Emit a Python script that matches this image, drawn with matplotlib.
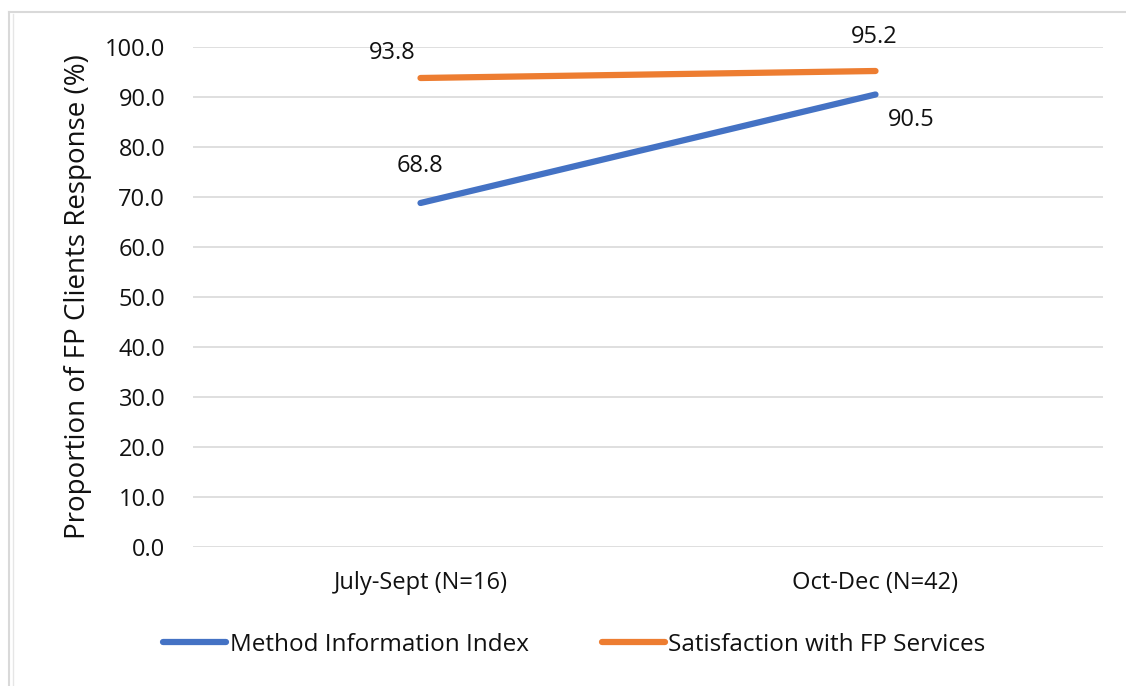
import matplotlib
matplotlib.use("Agg")
import matplotlib.pyplot as plt
from matplotlib.lines import Line2D

categories = ["July-Sept (N=16)", "Oct-Dec (N=42)"]
method_info = [68.8, 90.5]
satisfaction = [93.8, 95.2]
series_names = ["Method Information Index", "Satisfaction with FP Services"]
yticks = [0, 10, 20, 30, 40, 50, 60, 70, 80, 90, 100]

plt.rcParams['font.family'] = ['Open Sans', 'DejaVu Sans']

fig = plt.figure(figsize=(11.26, 6.86), dpi=100)
ax = fig.add_axes([193/1126, 1-547/686, 910/1126, 500/686])

blue = "#4472C4"
orange = "#ED7D31"
txt = "#111111"
fs = 17
x = list(range(len(categories)))
l1, = ax.plot(x, method_info, color=blue, lw=4.5, solid_capstyle='round', zorder=3)
l2, = ax.plot(x, satisfaction, color=orange, lw=4.5, solid_capstyle='round', zorder=3)

ax.set_xlim(-0.5, 1.5)
ax.set_ylim(0, 100)
ax.set_yticks(yticks)
ax.set_yticklabels([f"{v:.1f}" for v in yticks], fontsize=fs, color=txt)
ax.set_xticks(x)
ax.set_xticklabels(categories, fontsize=fs, color=txt)
ax.tick_params(axis='both', length=0)
ax.tick_params(axis='y', pad=20)
ax.tick_params(axis='x', pad=17)
ax.grid(axis='y', color="#D9D9D9", lw=1.2)
ax.set_axisbelow(True)
for s in ax.spines.values():
    s.set_visible(False)
ax.set_ylabel("Proportion of FP Clients Response (%)", fontsize=20, labelpad=9, color=txt)

# data labels
ax.annotate(f"{satisfaction[0]:.1f}", (x[0], satisfaction[0]), xytext=(-20, 18), textcoords='offset points', ha='center', va='center', fontsize=fs, color=txt)
ax.annotate(f"{satisfaction[1]:.1f}", (x[1], satisfaction[1]), xytext=(-0.7, 24.5), textcoords='offset points', ha='center', va='center', fontsize=fs, color=txt)
ax.annotate(f"{method_info[0]:.1f}", (x[0], method_info[0]), xytext=(0, 26.6), textcoords='offset points', ha='center', va='center', fontsize=fs, color=txt)
ax.annotate(f"{method_info[1]:.1f}", (x[1], method_info[1]), xytext=(26, -18), textcoords='offset points', ha='center', va='center', fontsize=fs, color=txt)

leg = fig.legend([l1, l2], series_names, loc='center', bbox_to_anchor=(0.51, 1-645/686),
                 ncol=2, frameon=False, fontsize=17.5, handlelength=2.6, handletextpad=0.15,
                 columnspacing=3.0)
for h in leg.get_lines():
    h.set_linewidth(4.5)
    h.set_solid_capstyle('round')
for t in leg.get_texts():
    t.set_color(txt)

# outer frame
fig.add_artist(Line2D([9/1126, 9/1126], [0, 1-12/686], color="#D9D9D9", lw=1.5, transform=fig.transFigure))
fig.add_artist(Line2D([13/1126, 13/1126], [0, 1-14/686], color="#E6E6E6", lw=1.0, transform=fig.transFigure))
fig.add_artist(Line2D([9/1126, 1], [1-12/686, 1-12/686], color="#D9D9D9", lw=1.5, transform=fig.transFigure))

fig.savefig("out.png", dpi=100, facecolor="white")
